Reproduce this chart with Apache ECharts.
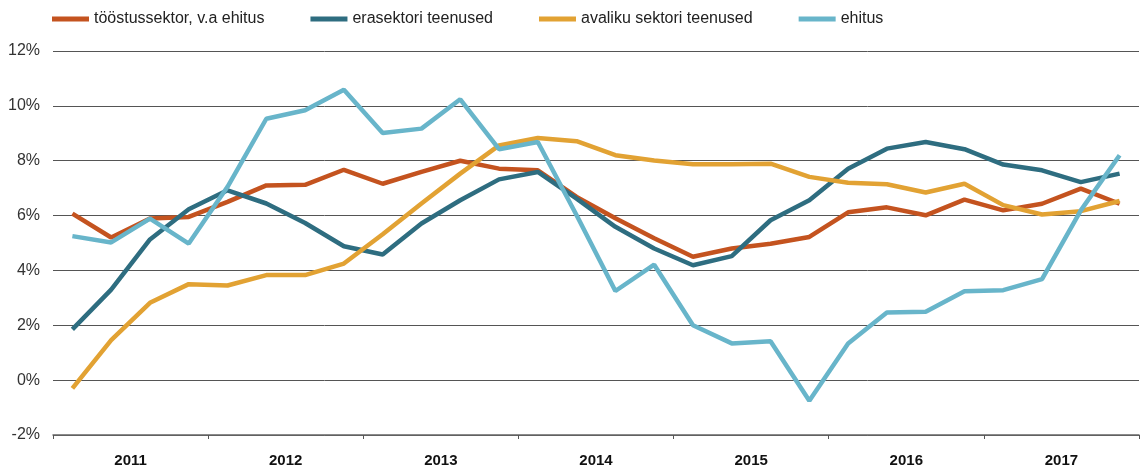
<!DOCTYPE html>
<html>
<head>
<meta charset="utf-8">
<script src="https://cdn.jsdelivr.net/npm/echarts@6/dist/echarts.min.js"></script>
<style>
html,body{margin:0;padding:0;background:#fff;}
#c{width:1146px;height:468px;}
</style>
</head>
<body>
<div id="c"></div>
<script>
const years = ['2011','2012','2013','2014','2015','2016','2017'];
const quarters = [];
years.forEach(y => { for (let q = 1; q <= 4; q++) quarters.push(y + ' Q' + q); });

const seriesNames = ['tööstussektor, v.a ehitus', 'erasektori teenused', 'avaliku sektori teenused', 'ehitus'];

const toostus = [6.07, 5.2, 5.89, 5.95, 6.5, 7.1, 7.12, 7.67, 7.16, 7.59, 8.0, 7.71, 7.65, 6.68, 5.9, 5.17, 4.5, 4.8, 4.97, 5.22, 6.12, 6.3, 6.01, 6.58, 6.19, 6.43, 6.98, 6.43];
const erasektor = [1.85, 3.3, 5.13, 6.23, 6.92, 6.44, 5.73, 4.88, 4.58, 5.71, 6.56, 7.32, 7.59, 6.62, 5.59, 4.8, 4.19, 4.52, 5.83, 6.56, 7.71, 8.44, 8.68, 8.42, 7.86, 7.65, 7.22, 7.53];
const avalik = [-0.3, 1.46, 2.82, 3.5, 3.45, 3.83, 3.83, 4.25, 5.32, 6.44, 7.53, 8.56, 8.83, 8.71, 8.2, 8.01, 7.87, 7.87, 7.89, 7.41, 7.2, 7.14, 6.84, 7.16, 6.38, 6.04, 6.16, 6.53];
const ehitus = [5.25, 5.02, 5.89, 4.98, 7.05, 9.53, 9.84, 10.59, 9.01, 9.17, 10.24, 8.42, 8.68, 6.01, 3.25, 4.21, 2.0, 1.34, 1.42, -0.75, 1.34, 2.47, 2.49, 3.24, 3.28, 3.68, 6.19, 8.2];

const colors = ['#C4531F', '#2E6D80', '#E2A233', '#68B5CA'];
const dataArr = [toostus, erasektor, avalik, ehitus];

const chart = echarts.init(document.getElementById('c'), null, {renderer: 'canvas'});
const font = "'Liberation Sans', Arial, Helvetica, sans-serif";

chart.setOption({
  animation: false,
  color: colors,
  textStyle: {fontFamily: font},
  legend: {
    top: 11,
    left: 52,
    padding: 0,
    itemWidth: 37,
    itemHeight: 5,
    itemGap: 46,
    icon: 'rect',
    textStyle: {fontSize: 16, color: '#222', fontFamily: font},
    data: seriesNames
  },
  grid: {left: 53, right: 7, top: 51, bottom: 33, containLabel: false},
  xAxis: [
    {
      type: 'category',
      data: quarters,
      boundaryGap: true,
      show: false
    },
    {
      type: 'category',
      data: years,
      boundaryGap: true,
      position: 'bottom',
      axisLine: {show: true, lineStyle: {color: '#666', width: 1.5}},
      axisTick: {show: true, length: 4, lineStyle: {color: '#555', width: 1}},
      axisLabel: {fontSize: 15, fontWeight: 'bold', color: '#111', margin: 18, fontFamily: font},
      splitLine: {show: false}
    }
  ],
  yAxis: {
    type: 'value',
    min: -2,
    max: 12,
    interval: 2,
    axisLine: {show: false},
    axisTick: {show: false},
    axisLabel: {formatter: '{value}%', fontSize: 16, color: '#333', margin: 13, fontFamily: font},
    splitLine: {lineStyle: {color: '#555', width: 1}}
  },
  series: seriesNames.map((n, i) => ({
    name: n,
    type: 'line',
    xAxisIndex: 0,
    data: dataArr[i],
    symbol: 'none',
    lineStyle: {width: 4.5, color: colors[i]},
    itemStyle: {color: colors[i]}
  }))
});
</script>
</body>
</html>
